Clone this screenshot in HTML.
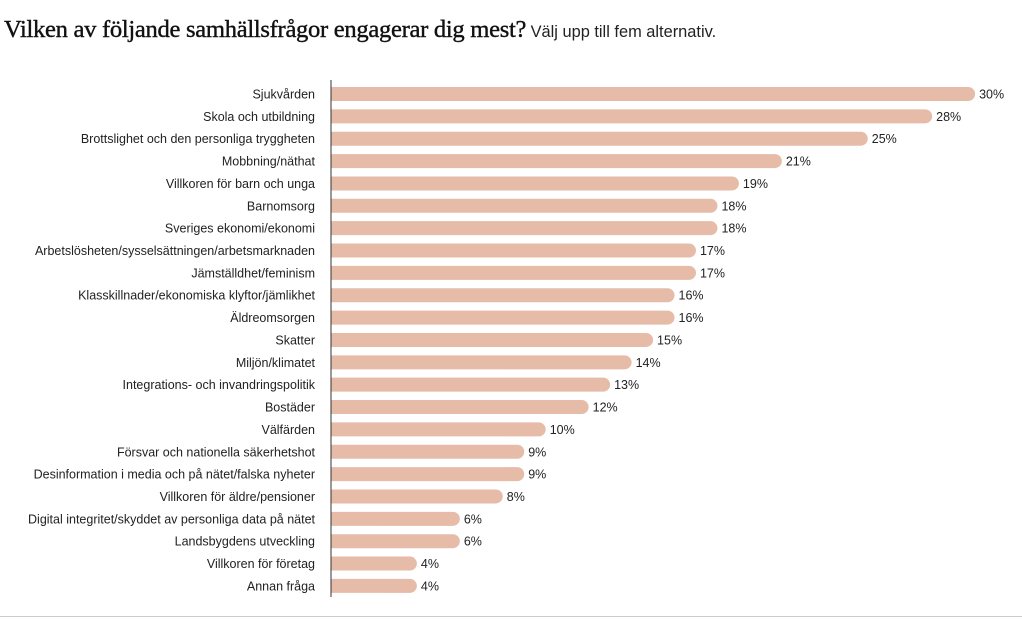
<!DOCTYPE html>
<html><head><meta charset="utf-8"><style>
body{margin:0;background:#fff;width:1022px;height:619px;overflow:hidden;position:relative;font-family:"Liberation Sans",sans-serif}
#title{position:absolute;left:4px;top:16px;white-space:nowrap;color:#111}
#title .main{font-family:"Liberation Serif",serif;font-size:24.6px;letter-spacing:-0.3px;-webkit-text-stroke:0.4px #111}
#title .sub{font-size:16.4px;color:#222}
#bottom{position:absolute;left:0;top:616px;width:1022px;height:1px;background:#ccc}
</style></head><body>
<div id="title"><span class="main">Vilken av följande samhällsfrågor engagerar dig mest?</span> <span class="sub">Välj upp till fem alternativ.</span></div>
<svg id="chart" width="1022" height="619" style="position:absolute;left:0;top:0"></svg>
<div id="bottom"></div>
<script>
const categories=["Sjukvården","Skola och utbildning","Brottslighet och den personliga tryggheten","Mobbning/näthat","Villkoren för barn och unga","Barnomsorg","Sveriges ekonomi/ekonomi","Arbetslösheten/sysselsättningen/arbetsmarknaden","Jämställdhet/feminism","Klasskillnader/ekonomiska klyftor/jämlikhet","Äldreomsorgen","Skatter","Miljön/klimatet","Integrations- och invandringspolitik","Bostäder","Välfärden","Försvar och nationella säkerhetshot","Desinformation i media och på nätet/falska nyheter","Villkoren för äldre/pensioner","Digital integritet/skyddet av personliga data på nätet","Landsbygdens utveckling","Villkoren för företag","Annan fråga"];
const values=[30,28,25,21,19,18,18,17,17,16,16,15,14,13,12,10,9,9,8,6,6,4,4];
const NS="http://www.w3.org/2000/svg";
const svg=document.getElementById('chart');
const x0=331,pxPer=21.47,yTop=94,step=22.36,bh=14;
const xs=v=>x0+v*pxPer;
const ys=i=>yTop+i*step;
function mk(t,a){const e=document.createElementNS(NS,t);for(const k in a)e.setAttribute(k,a[k]);svg.appendChild(e);return e;}
categories.forEach((c,i)=>{
  const y=ys(i),w=xs(values[i])-x0;
  const b=mk('path',{d:`M${x0},${y-bh/2}H${x0+w-bh/2}A${bh/2},${bh/2} 0 0 1 ${x0+w-bh/2},${y+bh/2}H${x0}Z`,fill:'#e6bba7'});
  
  
  const l=mk('text',{x:315,y:y+4.5,'text-anchor':'end','font-size':'12.5','fill':'#222','font-family':'Liberation Sans, sans-serif'});
  l.textContent=c;
  
  
  const v=mk('text',{x:xs(values[i])+4,y:y+4.5,'font-size':'12.5','fill':'#222','font-family':'Liberation Sans, sans-serif'});
  v.textContent=values[i]+'%';
  
  
});
const ax=mk('line',{x1:x0,x2:x0,y1:80,y2:597,stroke:'#333','stroke-width':1});


</script>
</body></html>
